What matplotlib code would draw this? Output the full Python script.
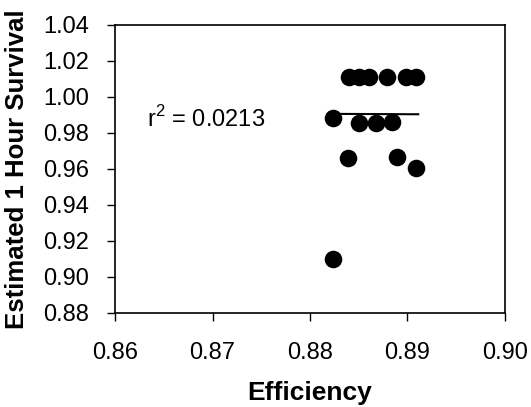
import matplotlib
matplotlib.use("Agg")
import matplotlib.pyplot as plt
import numpy as np

plt.rcParams['font.family'] = ['Liberation Sans', 'DejaVu Sans']
plt.rcParams['mathtext.fontset'] = 'custom'
plt.rcParams['mathtext.rm'] = 'Liberation Sans'

# efficiency vs estimated 1 hour survival
efficiency = [0.8840, 0.8850, 0.8861, 0.8879, 0.8898, 0.8909,
              0.8824, 0.8850, 0.8868, 0.8884,
              0.8839, 0.8889, 0.8909,
              0.8824]
survival = [1.011, 1.011, 1.011, 1.011, 1.011, 1.011,
            0.9885, 0.9855, 0.9858, 0.9862,
            0.966, 0.9665, 0.9605,
            0.910]

# trendline end points as drawn in the picture (nearly flat)
trend_x = [0.8832, 0.8911]
trend_y = [0.9906, 0.9904]

x_ticks = [0.86, 0.87, 0.88, 0.89, 0.90]
y_ticks = [0.88, 0.90, 0.92, 0.94, 0.96, 0.98, 1.00, 1.02, 1.04]
r2_label = "r$^2$ = 0.0213"

fig = plt.figure(figsize=(5.31, 4.07), dpi=100)
ax = fig.add_axes([0.2166, 0.231, 0.7344, 0.7076])

ax.scatter(efficiency, survival, s=160, color='black', zorder=3, linewidths=0)
ax.plot(trend_x, trend_y, color='black', lw=1.5, zorder=2)

ax.text(0.8633, 0.988, r2_label, fontsize=17, va='center', ha='left')

ax.set_xlim(0.86, 0.90)
ax.set_ylim(0.88, 1.04)
ax.set_xticks(x_ticks)
ax.set_yticks(y_ticks)
ax.set_xticklabels([f"{v:.2f}" for v in x_ticks])
ax.set_yticklabels([f"{v:.2f}" for v in y_ticks])
ax.tick_params(direction='out', length=6, width=1, labelsize=17)
ax.tick_params(axis='x', pad=15)
ax.tick_params(axis='y', pad=13)

for sp in ax.spines.values():
    sp.set_linewidth(1.2)

ax.set_xlabel("Efficiency", fontsize=19, fontweight='bold', labelpad=12)
ax.set_ylabel("Estimated 1 Hour Survival", fontsize=18.5, fontweight='bold', labelpad=10)

fig.savefig("out.png", dpi=100)
